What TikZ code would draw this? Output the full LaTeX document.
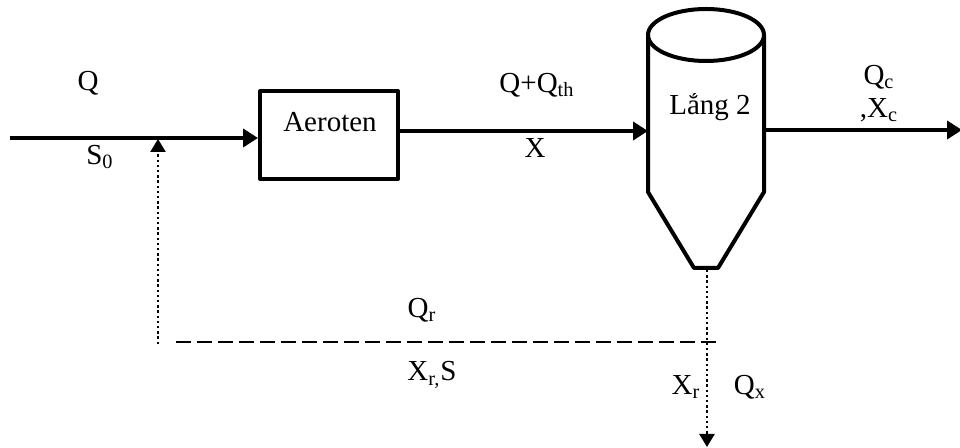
\documentclass[tikz,border=0pt]{standalone}
\usepackage{fontspec}
\setmainfont{Liberation Serif}
\usetikzlibrary{arrows.meta,positioning}
\tikzset{
  flow/.style={line width=2pt,-{Triangle[length=7.5pt,width=9pt]}},
  drain/.style={line width=1.2pt,dash pattern=on 1.2pt off 1.4pt,-{Triangle[length=6.5pt,width=7.5pt]}},
  wall/.style={line width=2pt,line join=round},
  lbl/.style={inner sep=0pt,font=\fontsize{14.5}{17}\selectfont}
}
\begin{document}
\begin{tikzpicture}[x=0.5pt,y=-0.5pt]
\useasboundingbox (0,0) rectangle (960,448);
% aeration tank
\node[draw,wall,minimum width=69pt,minimum height=44pt,inner sep=0pt] (aeroten) at (329,135) {};
\node[lbl] (aerotxt) at (330,122) {Aeroten};
% settling tank
\draw[wall] (706,35) ellipse [x radius=58, y radius=26];
\draw[wall] (648,35) -- (648,192) -- (694,268) -- (718,268) -- (764,192) -- (764,35);
\node[lbl] (lang) at (710,107) {Lắng 2};
% points on the lines
\coordinate (in) at (10,138);
\coordinate (join) at (158,139);
\coordinate (lin) at (648,131);
\coordinate (lout) at (764,130);
\coordinate (out) at (962,130);
\coordinate (bot) at (707,270);
\coordinate (sink) at (707,447);
\coordinate (rb) at (158,344);
\coordinate (rs) at (176,342);
\coordinate (re) at (717,342);
% flows
\draw[flow] (in) -- (in -| aeroten.west);
\draw[flow] ([yshift=2pt]aeroten.east) -- (lin);
\draw[flow] (lout) -- (out);
\draw[drain] (bot) -- (sink);
\draw[drain] (rb) -- (join);
\draw[line width=1pt,dash pattern=on 7.5pt off 3pt] (rs) -- (re);
% labels
\node[lbl] (q) at (88,83) {Q};
\node[lbl] (s0) at (100,157) {S\textsubscript{0}};
\node[lbl] (qqth) at (537,85) {Q+Q\textsubscript{th}};
\node[lbl] (x) at (535,148) {X};
\node[lbl] (qc) at (879,77) {Q\textsubscript{c}};
\node[lbl] (xc) at (879,110) {,X\textsubscript{c}};
\node[lbl] (qr) at (422,310) {Q\textsubscript{r}};
\node[lbl] (xrs) at (432,375) {X\textsubscript{r,}S};
\node[lbl] (xr) at (686,387) {X\textsubscript{r}};
\node[lbl] (qx) at (750,387) {Q\textsubscript{x}};
\end{tikzpicture}
\end{document}
